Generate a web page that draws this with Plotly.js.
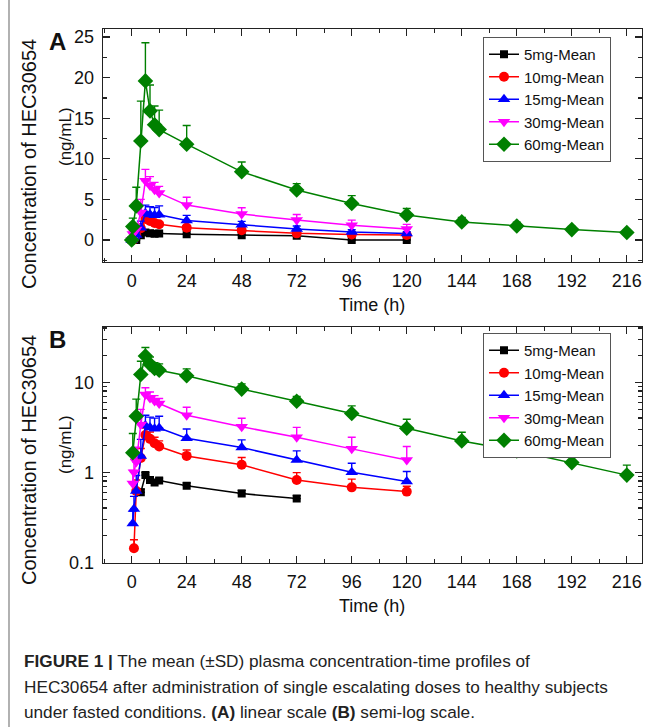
<!DOCTYPE html>
<html><head><meta charset="utf-8">
<script src="https://cdn.plot.ly/plotly-3.0.1.min.js"></script>
<style>body{margin:0;background:#fff}#chart{width:654px;height:727px}</style>
</head><body><div id="chart"></div>
<script>
// ---- data (time in h, concentration in ng/mL) ----
const timeH  = [0, 0.5, 1, 2, 4, 6, 8, 10, 12, 24, 48, 72, 96, 120];
const time60 = [0, 0.5, 2, 4, 6, 8, 10, 12, 24, 48, 72, 96, 120, 144, 168, 192, 216];

const mean5  = [0, 0, 0, 0, 0.60, 0.93, 0.82, 0.77, 0.81, 0.71, 0.58, 0.51, 0, 0];
const sd5    = [0, 0, 0, 0, 0.05, 0.06, 0.05, 0.05, 0.05, 0.05, 0.05, 0.04, 0, 0];
const mean10 = [0, 0, 0.143, 0.62, 1.44, 2.6, 2.35, 2.1, 1.93, 1.52, 1.21, 0.82, 0.68, 0.61];
const sd10   = [0, 0, 0.035, 0.2, 0.4, 0.5, 0.45, 0.35, 0.3, 0.25, 0.25, 0.17, 0.16, 0.09];
const mean15 = [0, 0.27, 0.39, 0.62, 1.52, 3.3, 3.15, 3.05, 3.1, 2.39, 1.88, 1.37, 1.0, 0.79];
const sd15   = [0, 0.1, 0.15, 0.3, 0.8, 1.0, 0.95, 0.95, 1.1, 0.64, 0.41, 0.36, 0.26, 0.23];
const mean30 = [0, 0.75, 1.0, 1.3, 3.4, 7.3, 6.7, 6.2, 5.8, 4.3, 3.2, 2.45, 1.82, 1.37];
const sd30   = [0, 0.3, 0.4, 0.6, 1.6, 1.4, 1.1, 0.9, 0.8, 0.97, 0.78, 0.7, 0.63, 0.56];
const mean60 = [0, 1.65, 4.2, 12.2, 19.6, 15.9, 14.2, 13.6, 11.8, 8.4, 6.15, 4.5, 3.08, 2.23, 1.73, 1.28, 0.93];
const sd60   = [0, 1.05, 2.3, 4.9, 4.7, 3.2, 2.3, 2.4, 2.3, 1.2, 0.8, 0.96, 0.8, 0.55, 0.46, 0.38, 0.27];

const seriesNames = ['5mg-Mean', '10mg-Mean', '15mg-Mean', '30mg-Mean', '60mg-Mean'];

// ---- styles ----
const series = [
  {x: timeH,  y: mean5,  sd: sd5,  color: '#000000', symbol: 'square',        size: 8},
  {x: timeH,  y: mean10, sd: sd10, color: '#FF0000', symbol: 'circle',        size: 10},
  {x: timeH,  y: mean15, sd: sd15, color: '#0000FF', symbol: 'triangle-up',   size: 11},
  {x: timeH,  y: mean30, sd: sd30, color: '#FF00FF', symbol: 'triangle-down', size: 11},
  {x: time60, y: mean60, sd: sd60, color: '#008000', symbol: 'diamond',       size: 12}
];

const W = 654, H = 727;
const px = v => v / W;
const py = v => 1 - v / H;
const FONT = 'Liberation Sans, Arial, sans-serif';

const traces = [];
[['x', 'y', 'legend', false], ['x2', 'y2', 'legend2', true]].forEach(([xa, ya, lg, isLog]) => {
  series.forEach((s, i) => {
    // values of 0 (below quantification) cannot be shown on the log panel
    const yy = isLog ? s.y.map(v => (v > 0 ? v : null)) : s.y;
    traces.push({
      type: 'scatter', mode: 'lines+markers',
      x: s.x, y: yy, name: seriesNames[i],
      xaxis: xa, yaxis: ya, legend: lg,
      line: {color: s.color, width: 1.5},
      marker: {color: s.color, symbol: s.symbol, size: s.size, line: {width: 0}},
      error_y: {type: 'data', symmetric: false, array: s.sd, arrayminus: s.sd.map(() => 0),
                color: s.color, thickness: 1.4, width: 4}
    });
  });
});

const xBase = {
  domain: [px(103), px(641.5)], range: [-12.5, 222.4],
  tick0: 0, dtick: 24, ticks: 'inside', ticklen: 7, tickwidth: 1.2, tickcolor: '#222',
  minor: {dtick: 12, ticks: 'inside', ticklen: 4, tickwidth: 1.2, tickcolor: '#222'},
  showline: true, linecolor: '#222', linewidth: 1.3, mirror: 'ticks',
  showgrid: false, zeroline: false, ticklabelstandoff: 2,
  tickfont: {family: FONT, size: 18, color: '#111'}, automargin: false, fixedrange: true
};
const yBase = {
  ticks: 'inside', ticklen: 7, tickwidth: 1.2, tickcolor: '#222',
  showline: true, linecolor: '#222', linewidth: 1.3, mirror: 'ticks',
  showgrid: false, zeroline: false, ticklabelstandoff: 4,
  tickfont: {family: FONT, size: 18, color: '#111'}, automargin: false, fixedrange: true
};

const legendBase = {
  xanchor: 'left', yanchor: 'top', bgcolor: '#fff', bordercolor: '#555', borderwidth: 1,
  font: {family: FONT, size: 15, color: '#111'}, tracegroupgap: 0, itemclick: false
};

const ann = (text, x, y, opts) => Object.assign({
  text: text, xref: 'paper', yref: 'paper', x: px(x), y: py(y), showarrow: false,
  xanchor: 'center', yanchor: 'middle', font: {family: FONT, size: 18, color: '#111'}
}, opts || {});

const capFont = {family: FONT, size: 17.2, color: '#222'};
const yTitleFont = {family: FONT, size: 20, color: '#111'};
const yUnitFont = {family: FONT, size: 17, color: '#111'};

const layout = {
  width: W, height: H, margin: {l: 0, r: 0, t: 0, b: 0},
  paper_bgcolor: '#fff', plot_bgcolor: '#fff', showlegend: true,
  xaxis: Object.assign({}, xBase, {anchor: 'y'}),
  yaxis: Object.assign({}, yBase, {anchor: 'x', domain: [py(262), py(29)], range: [-2.71, 25.99],
    tick0: 0, dtick: 5,
    minor: {dtick: 2.5, ticks: 'inside', ticklen: 4, tickwidth: 1.2, tickcolor: '#222'}}),
  xaxis2: Object.assign({}, xBase, {anchor: 'y2'}),
  yaxis2: Object.assign({}, yBase, {anchor: 'x2', type: 'log', domain: [py(563), py(327)],
    range: [-1.008, 1.614], dtick: 1,
    minor: {dtick: 'D1', ticks: 'inside', ticklen: 4, tickwidth: 1.2, tickcolor: '#222'}}),
  legend: Object.assign({}, legendBase, {x: px(483), y: py(37)}),
  legend2: Object.assign({}, legendBase, {x: px(483), y: py(333)}),
  shapes: [
    {type: 'line', xref: 'paper', yref: 'paper', x0: px(9), x1: px(9), y0: 0, y1: 1,
     line: {color: '#888', width: 1.3}}
  ],
  annotations: [
    ann('<b>A</b>', 57, 42, {font: {family: FONT, size: 24, color: '#111'}}),
    ann('<b>B</b>', 57, 339, {font: {family: FONT, size: 24, color: '#111'}}),
    ann('Concentration of HEC30654', 29, 164, {textangle: -90, font: yTitleFont}),
    ann('(ng/mL)', 65, 137, {textangle: -90, font: yUnitFont}),
    ann('Concentration of HEC30654', 29, 460, {textangle: -90, font: yTitleFont}),
    ann('(ng/mL)', 65, 445, {textangle: -90, font: yUnitFont}),
    ann('Time (h)', 372, 305),
    ann('Time (h)', 372, 606),
    ann('<b>FIGURE 1 |</b> The mean (±SD) plasma concentration-time profiles of', 22, 661,
        {xanchor: 'left', font: capFont}),
    ann('HEC30654 after administration of single escalating doses to healthy subjects', 22, 687,
        {xanchor: 'left', font: capFont}),
    ann('under fasted conditions. <b>(A)</b> linear scale <b>(B)</b> semi-log scale.', 22, 712,
        {xanchor: 'left', font: capFont})
  ]
};

Plotly.newPlot('chart', traces, layout, {staticPlot: true, displayModeBar: false});
</script></body></html>
